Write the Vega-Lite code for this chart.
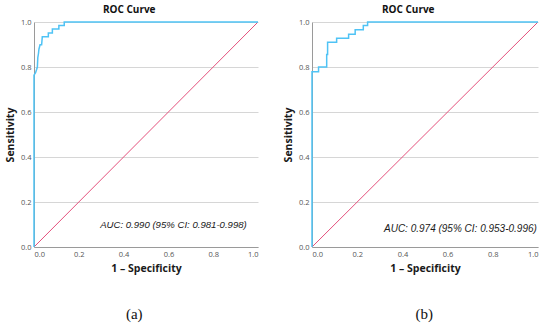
{
  "$schema": "https://vega.github.io/schema/vega-lite/v6.json",
  "background": "white",
  "padding": 5,
  "spacing": 22,
  "config": {
    "view": {"stroke": null},
    "axis": {
      "labelFont": "Open Sans",
      "labelFontSize": 7.5,
      "labelColor": "#555555",
      "titleFont": "Open Sans",
      "titleFontSize": 10.5,
      "titleFontWeight": "bold",
      "titleColor": "#1a1a1a",
      "domainColor": "#9a9a9a",
      "gridColor": "#d6d6d6",
      "ticks": false
    },
    "title": {"font": "Open Sans", "fontSize": 10, "fontWeight": "bold", "color": "#111111"}
  },
  "datasets": {
    "roc": [
      {"panel": "a", "order": 0, "fpr": 0, "tpr": 0},
      {"panel": "a", "order": 1, "fpr": 0, "tpr": 0.764},
      {"panel": "a", "order": 2, "fpr": 0.007, "tpr": 0.775},
      {"panel": "a", "order": 3, "fpr": 0.012, "tpr": 0.79},
      {"panel": "a", "order": 4, "fpr": 0.015, "tpr": 0.80},
      {"panel": "a", "order": 5, "fpr": 0.017, "tpr": 0.842},
      {"panel": "a", "order": 6, "fpr": 0.02, "tpr": 0.86},
      {"panel": "a", "order": 7, "fpr": 0.022, "tpr": 0.879},
      {"panel": "a", "order": 8, "fpr": 0.027, "tpr": 0.899},
      {"panel": "a", "order": 9, "fpr": 0.034, "tpr": 0.899},
      {"panel": "a", "order": 10, "fpr": 0.037, "tpr": 0.934},
      {"panel": "a", "order": 11, "fpr": 0.064, "tpr": 0.934},
      {"panel": "a", "order": 12, "fpr": 0.064, "tpr": 0.951},
      {"panel": "a", "order": 13, "fpr": 0.082, "tpr": 0.951},
      {"panel": "a", "order": 14, "fpr": 0.082, "tpr": 0.969},
      {"panel": "a", "order": 15, "fpr": 0.111, "tpr": 0.969},
      {"panel": "a", "order": 16, "fpr": 0.111, "tpr": 0.985},
      {"panel": "a", "order": 17, "fpr": 0.135, "tpr": 0.985},
      {"panel": "a", "order": 18, "fpr": 0.135, "tpr": 1},
      {"panel": "a", "order": 19, "fpr": 1, "tpr": 1},
      {"panel": "b", "order": 0, "fpr": 0, "tpr": 0},
      {"panel": "b", "order": 1, "fpr": 0, "tpr": 0.779},
      {"panel": "b", "order": 2, "fpr": 0.029, "tpr": 0.779},
      {"panel": "b", "order": 3, "fpr": 0.029, "tpr": 0.80},
      {"panel": "b", "order": 4, "fpr": 0.065, "tpr": 0.80},
      {"panel": "b", "order": 5, "fpr": 0.065, "tpr": 0.856},
      {"panel": "b", "order": 6, "fpr": 0.069, "tpr": 0.856},
      {"panel": "b", "order": 7, "fpr": 0.069, "tpr": 0.91},
      {"panel": "b", "order": 8, "fpr": 0.109, "tpr": 0.91},
      {"panel": "b", "order": 9, "fpr": 0.109, "tpr": 0.928},
      {"panel": "b", "order": 10, "fpr": 0.162, "tpr": 0.928},
      {"panel": "b", "order": 11, "fpr": 0.162, "tpr": 0.946},
      {"panel": "b", "order": 12, "fpr": 0.191, "tpr": 0.946},
      {"panel": "b", "order": 13, "fpr": 0.191, "tpr": 0.966},
      {"panel": "b", "order": 14, "fpr": 0.227, "tpr": 0.966},
      {"panel": "b", "order": 15, "fpr": 0.227, "tpr": 0.984},
      {"panel": "b", "order": 16, "fpr": 0.246, "tpr": 0.984},
      {"panel": "b", "order": 17, "fpr": 0.246, "tpr": 1},
      {"panel": "b", "order": 18, "fpr": 1, "tpr": 1}
    ],
    "diag": [
      {"fpr": 0, "tpr": 0},
      {"fpr": 1, "tpr": 1}
    ],
    "auc": [
      {"panel": "a", "label": "AUC: 0.990 (95% CI: 0.981-0.998)"},
      {"panel": "b", "label": "AUC: 0.974 (95% CI: 0.953-0.996)"}
    ]
  },
  "hconcat": [
    {
      "title": {"text": "(a)", "orient": "bottom", "font": "Liberation Serif", "fontSize": 15, "fontWeight": "normal", "offset": 33, "anchor": "middle", "frame": "bounds", "dx": 1},
      "vconcat": [
        {
          "width": 224,
          "height": 225,
          "title": {"text": "ROC Curve", "anchor": "middle", "frame": "bounds", "offset": 3, "dx": -4},
          "layer": [
            {
              "data": {"name": "diag"},
              "mark": {"type": "line", "color": "#e4507c", "strokeWidth": 1},
              "encoding": {
                "x": {"field": "fpr", "type": "quantitative", "scale": {"domain": [0, 1], "nice": false}, "axis": {"title": "1 – Specificity", "grid": false, "values": [0, 0.2, 0.4, 0.6, 0.8, 1], "format": ".1f", "labelPadding": 3, "titlePadding": 6}},
                "y": {"field": "tpr", "type": "quantitative", "scale": {"domain": [0, 1], "nice": false}, "axis": {"title": "Sensitivity", "grid": true, "values": [0, 0.2, 0.4, 0.6, 0.8, 1], "format": ".1f", "labelPadding": 3, "titlePadding": 5}}
              }
            },
            {
              "data": {"name": "roc"},
              "transform": [{"filter": "datum.panel === 'a'"}],
              "mark": {"type": "line", "color": "#4fc3f5", "strokeWidth": 1.5},
              "encoding": {
                "x": {"field": "fpr", "type": "quantitative"},
                "y": {"field": "tpr", "type": "quantitative"},
                "order": {"field": "order", "type": "quantitative"}
              }
            },
            {
              "data": {"name": "auc"},
              "transform": [{"filter": "datum.panel === 'a'"}],
              "mark": {"type": "text", "font": "Liberation Sans", "fontStyle": "italic", "fontSize": 9.6, "align": "right", "baseline": "middle", "color": "#1a1a1a"},
              "encoding": {
                "text": {"field": "label", "type": "nominal"},
                "x": {"datum": 0.95, "type": "quantitative"},
                "y": {"datum": 0.1, "type": "quantitative"}
              }
            }
          ]
        }
      ]
    },
    {
      "title": {"text": "(b)", "orient": "bottom", "font": "Liberation Serif", "fontSize": 15, "fontWeight": "normal", "offset": 33, "anchor": "middle", "frame": "bounds", "dx": 12},
      "vconcat": [
        {
          "width": 226,
          "height": 225,
          "title": {"text": "ROC Curve", "anchor": "middle", "frame": "bounds", "offset": 3, "dx": -4},
          "layer": [
            {
              "data": {"name": "diag"},
              "mark": {"type": "line", "color": "#e4507c", "strokeWidth": 1},
              "encoding": {
                "x": {"field": "fpr", "type": "quantitative", "scale": {"domain": [0, 1], "nice": false}, "axis": {"title": "1 – Specificity", "grid": false, "values": [0, 0.2, 0.4, 0.6, 0.8, 1], "format": ".1f", "labelPadding": 3, "titlePadding": 6}},
                "y": {"field": "tpr", "type": "quantitative", "scale": {"domain": [0, 1], "nice": false}, "axis": {"title": "Sensitivity", "grid": true, "values": [0, 0.2, 0.4, 0.6, 0.8, 1], "format": ".1f", "labelPadding": 3, "titlePadding": 5}}
              }
            },
            {
              "data": {"name": "roc"},
              "transform": [{"filter": "datum.panel === 'b'"}],
              "mark": {"type": "line", "color": "#4fc3f5", "strokeWidth": 1.5},
              "encoding": {
                "x": {"field": "fpr", "type": "quantitative"},
                "y": {"field": "tpr", "type": "quantitative"},
                "order": {"field": "order", "type": "quantitative"}
              }
            },
            {
              "data": {"name": "auc"},
              "transform": [{"filter": "datum.panel === 'b'"}],
              "mark": {"type": "text", "font": "Liberation Sans", "fontStyle": "italic", "fontSize": 10, "align": "right", "baseline": "middle", "color": "#1a1a1a"},
              "encoding": {
                "text": {"field": "label", "type": "nominal"},
                "x": {"datum": 0.995, "type": "quantitative"},
                "y": {"datum": 0.08, "type": "quantitative"}
              }
            }
          ]
        }
      ]
    }
  ]
}
